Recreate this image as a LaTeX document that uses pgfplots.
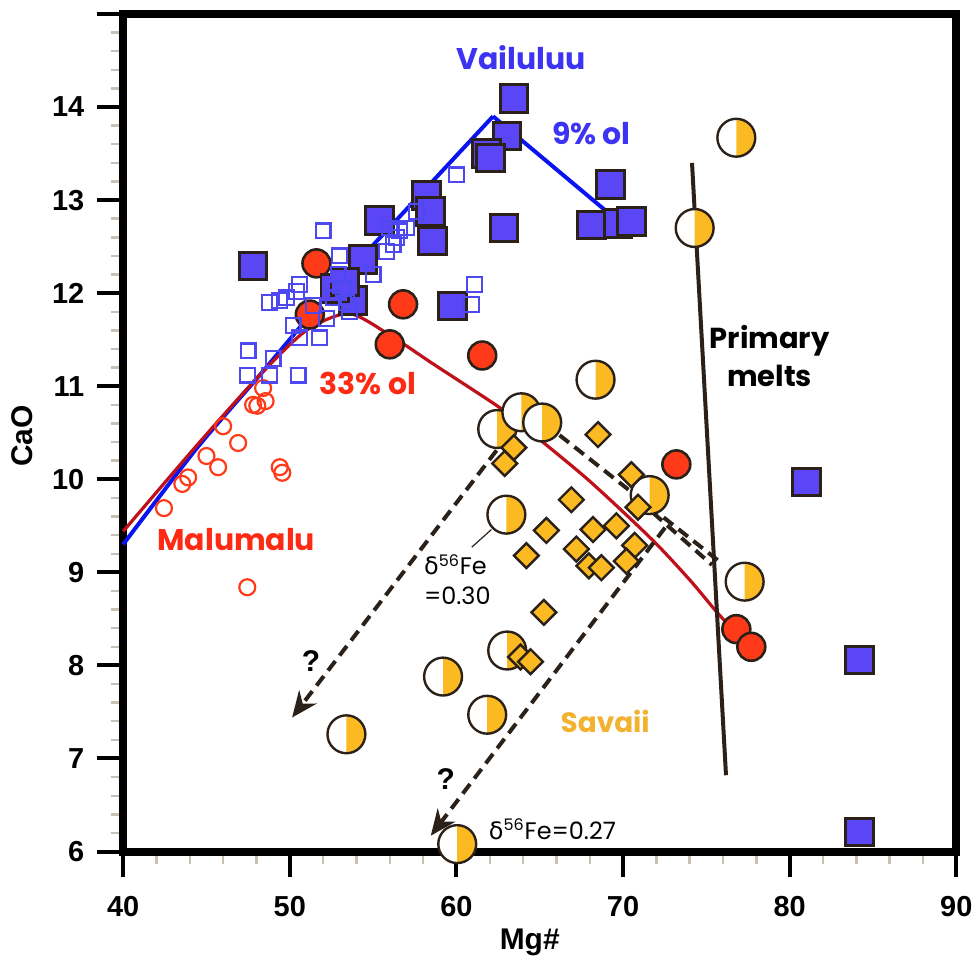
\documentclass[border=0pt]{standalone}
\usepackage{fontspec}
\setmainfont{Liberation Sans}
\newfontfamily\pop{Poppins}
\newfontfamily\dv{DejaVu Sans}
\usepackage{pgfplots}
\pgfplotsset{compat=1.18}
\usetikzlibrary{arrows.meta}
\definecolor{vblue}{HTML}{5A46F5}
\definecolor{vline}{HTML}{0A14F0}
\definecolor{vopen}{HTML}{4E48F0}
\definecolor{mred}{HTML}{FF3A18}
\definecolor{mline}{HTML}{C0101A}
\definecolor{sor}{HTML}{FBBA22}
\definecolor{edge}{HTML}{2B2119}
\definecolor{mgray}{HTML}{C8BFB5}
\definecolor{vtext}{HTML}{3C34F2}
\definecolor{mtext}{HTML}{FF2A14}
\definecolor{stext}{HTML}{F2B230}
\pgfdeclareplotmark{halfc}{%
  \pgfpathcircle{\pgfpointorigin}{\pgfplotmarksize}%
  \pgfsetfillcolor{white}\pgfusepathqfill
  \pgfpathmoveto{\pgfqpoint{0pt}{\pgfplotmarksize}}%
  \pgfpatharc{90}{-90}{\pgfplotmarksize}%
  \pgfpathclose
  \pgfsetfillcolor{sor}\pgfusepathqfill
  \pgfpathcircle{\pgfpointorigin}{\pgfplotmarksize}%
  \pgfusepathqstroke
}
\begin{document}
\begin{tikzpicture}
\begin{axis}[
  scale only axis, width=417.75pt, height=420pt,
  xmin=40, xmax=90, ymin=6, ymax=15,
  xtick={40,50,...,90}, ytick={6,...,15},
  yticklabels={6,7,8,9,10,11,12,13,14,},
  minor x tick num=4, minor y tick num=4,
  xtick pos=left, ytick pos=left,
  tick align=outside, major tick length=13pt, minor tick length=6pt,
  every major tick/.append style={black, line width=2pt},
  every minor tick/.append style={mgray, line width=1.2pt},
  axis line style={line width=4pt},
  /pgf/number format/assume math mode=true,
  ticklabel style={font=\fontsize{14.5}{17}\selectfont\bfseries},
  xticklabel style={yshift=-6pt},
  yticklabel style={xshift=-3pt},
  xlabel={Mg\#}, ylabel={CaO},
  label style={font=\fontsize{15}{18}\selectfont\bfseries},
  xlabel style={at={(axis description cs:0.488,-0.108)}, anchor=center},
  ylabel style={at={(axis description cs:-0.1215,0.496)}, anchor=center},
  clip=false,
]
% curves
\addplot[vline, line width=2pt, smooth, tension=0.4] coordinates {(40,9.3) (44.4,10.33) (48.2,11.12) (52.6,12.05) (58.2,13.13) (62.2,13.9)};
\addplot[vline, line width=2pt] coordinates {(62.2,13.9) (69.2,12.85)};
\addplot[mline, line width=1.6pt, smooth, tension=0.45] coordinates {(40,9.44) (44.4,10.36) (48.2,11.12) (51.0,11.6) (53.55,11.78) (56,11.55) (58.6,11.24) (62.6,10.77) (64.5,10.5) (68,9.98) (71.7,9.36) (74,8.92) (75.5,8.6) (76.6,8.38)};
\addplot[edge, line width=2pt] coordinates {(74.14,13.4) (76.18,6.82)};
% dashed lines
\addplot[edge, line width=2pt, dash pattern=on 6pt off 3.5pt] coordinates {(65.3,10.6) (75.9,9.1)};
\addplot[edge, line width=2pt, dash pattern=on 6pt off 3.5pt] coordinates {(71.8,9.64) (75.34,9.08)};
\addplot[edge, line width=2pt, dash pattern=on 6pt off 3.5pt, -{Stealth[length=13pt,width=11pt]}] coordinates {(62.41,10.31) (50.14,7.44)};
\addplot[edge, line width=2pt, dash pattern=on 6pt off 3.5pt, -{Stealth[length=13pt,width=11pt]}] coordinates {(72.52,9.48) (58.46,6.17)};
\addplot[edge, line width=0.6pt] coordinates {(60.92,9.27) (62.1,9.46)};
% Malumalu open circles
\addplot[only marks, mark=o, mark size=4pt, mark options={draw=mred, line width=1.1pt}] coordinates {
(48.4,10.98) (48.55,10.84) (47.8,10.8) (48.05,10.79) (46.0,10.57) (46.9,10.39) (45.0,10.25) (45.7,10.13) (43.9,10.02) (43.55,9.95) (42.45,9.69) (49.4,10.13) (49.55,10.07) (47.45,8.84)};
% Malumalu filled circles
\addplot[only marks, mark=*, mark size=7pt, mark options={fill=mred, draw=edge, line width=1.3pt}] coordinates {
(51.6,12.32) (51.2,11.77) (56.8,11.88) (56.0,11.45) (61.55,11.33) (73.2,10.16) (76.8,8.39) (77.7,8.2)};
% Vailuluu filled squares
\addplot[only marks, mark=square*, mark size=6.9pt, mark options={fill=vblue, draw=edge, line width=1.5pt}] coordinates {
(63.46,14.09) (63.04,13.69) (61.8,13.5) (62.05,13.45) (69.25,13.17) (62.87,12.7) (58.2,13.05) (58.45,12.88) (58.57,12.56) (55.4,12.78) (47.8,12.29) (54.4,12.36) (53.8,11.92) (59.76,11.86) (52.7,12.05) (53.3,12.12) (68.1,12.73) (69.7,12.75) (70.5,12.77) (81.0,9.97) (84.2,8.06) (84.2,6.21)};
% Vailuluu open squares
\addplot[only marks, mark=square, mark size=3.7pt, mark options={draw=vopen, line width=1.1pt}] coordinates {
(52.0,12.67) (60.0,13.27) (53.0,12.4) (55.0,12.2) (61.1,12.09) (60.9,11.88) (48.8,11.9) (49.4,11.92) (50.6,12.09) (50.4,12.02) (50.2,11.65) (51.8,11.52) (47.5,11.38) (49.0,11.3) (47.45,11.12) (48.8,11.12) (50.5,11.12) (56.0,12.7) (56.6,12.67) (56.2,12.52) (55.8,12.45) (57.0,12.7) (57.6,12.88) (52.6,11.95) (53.2,12.05) (53.6,11.8) (51.4,11.87) (52.2,11.73) (49.8,11.95) (50.6,11.52) (52.9,12.2) (53.4,11.9) (56.4,12.6)};
% Savaii half circles
\addplot[only marks, mark=halfc, mark size=9.5pt, mark options={draw=edge, line width=1.2pt}] coordinates {
(76.8,13.67) (74.3,12.7) (68.35,11.07) (62.45,10.54) (63.9,10.72) (65.15,10.61) (63.0,9.62) (63.05,8.16) (59.2,7.88) (61.85,7.47) (53.4,7.26) (60.05,6.08) (71.6,9.83) (77.3,8.9)};
% Savaii diamonds
\addplot[only marks, mark=square*, mark size=4.4pt, mark options={rotate=45, fill=sor, draw=edge, line width=1.2pt}] coordinates {
(63.45,10.34) (62.9,10.17) (68.5,10.48) (70.5,10.05) (66.9,9.78) (70.9,9.7) (65.4,9.45) (68.2,9.46) (69.6,9.5) (64.2,9.18) (67.2,9.25) (70.7,9.29) (67.95,9.07) (68.7,9.05) (70.2,9.12) (65.25,8.57) (63.85,8.09) (64.45,8.04)};
% labels
\node[font=\pop\bfseries\fontsize{15}{18}\selectfont, text=vtext] at (axis cs:63.9,14.53) {Vailuluu};
\node[font=\pop\bfseries\fontsize{15}{18}\selectfont, text=vtext] at (axis cs:68.1,13.72) {9\% ol};
\node[font=\pop\bfseries\fontsize{15}{18}\selectfont, text=mtext] at (axis cs:54.69,11.03) {33\% ol};
\node[font=\pop\bfseries\fontsize{15}{18}\selectfont, text=mtext] at (axis cs:46.79,9.35) {Malumalu};
\node[font=\pop\bfseries\fontsize{14.5}{19}\selectfont, text=black, align=center] at (axis cs:78.8,11.32) {Primary\\melts};
\node[font=\pop\bfseries\fontsize{14}{17}\selectfont, text=stext] at (axis cs:68.93,7.4) {Savaii};
\node[font=\bfseries\fontsize{15}{18}\selectfont] at (axis cs:51.28,8.05) {?};
\node[font=\bfseries\fontsize{15}{18}\selectfont] at (axis cs:59.36,6.78) {?};
\node[font=\pop\fontsize{12}{15}\selectfont, anchor=west, align=left, inner sep=0pt] at (axis cs:58.04,8.92) {{\dv δ}\textsuperscript{56}Fe\\=0.30};
\node[font=\pop\fontsize{12}{15}\selectfont, anchor=west, inner sep=0pt] at (axis cs:61.93,6.24) {{\dv δ}\textsuperscript{56}Fe=0.27};
\end{axis}
\path (current axis.south west) ++(-61.75pt,-53.5pt) coordinate (bl);
\useasboundingbox (bl) rectangle ([xshift=10pt,yshift=7pt]current axis.north east);
\end{tikzpicture}
\end{document}
